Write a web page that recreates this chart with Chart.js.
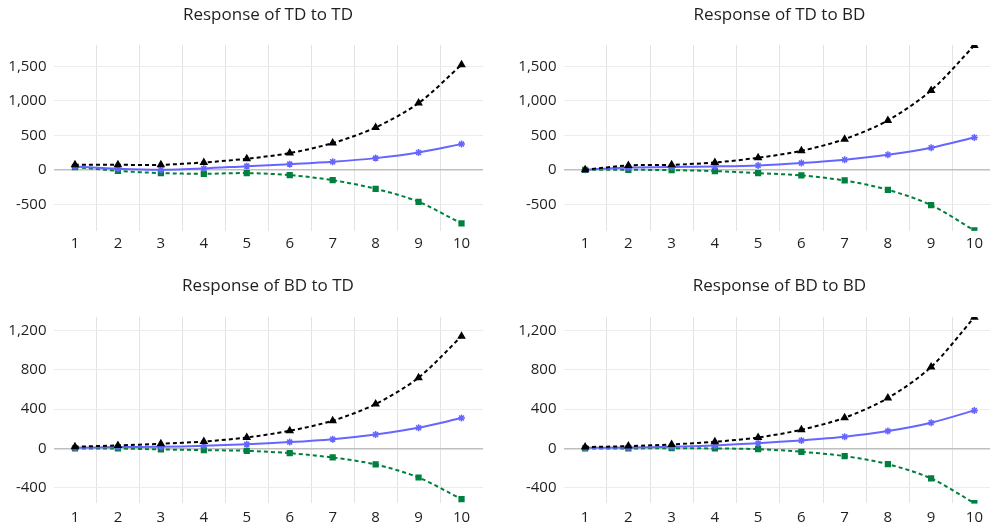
<!DOCTYPE html>
<html>
<head>
<meta charset="utf-8">
<script src="https://cdn.jsdelivr.net/npm/chart.js@4.4.1/dist/chart.umd.min.js"></script>
<style>
    html, body { margin: 0; padding: 0; background: #fff; overflow: hidden; }
    #wrap { position: relative; width: 990px; height: 527px; overflow: hidden; }
    .panel { position: absolute; }
</style>
</head>
<body>
<div id="wrap">
    <div class="panel" style="left:0;top:0"><canvas id="c1" width="536" height="264"></canvas></div>
    <div class="panel" style="left:510px;top:0"><canvas id="c2" width="539" height="264"></canvas></div>
    <div class="panel" style="left:0;top:264px"><canvas id="c3" width="536" height="268"></canvas></div>
    <div class="panel" style="left:510px;top:264px"><canvas id="c4" width="539" height="268"></canvas></div>
</div>
<script>
// Data
const periods = ['1', '2', '3', '4', '5', '6', '7', '8', '9', '10'];

// Response of TD to TD
const tdTdUpper = [72, 72, 72, 106, 160, 242, 387, 614, 966, 1522];
const tdTdMid = [48, 15, 0, 19, 53, 82, 116, 169, 251, 372];
const tdTdLower = [39, -15, -48, -58, -48, -77, -150, -275, -464, -778];

// Response of TD to BD
const tdBdUpper = [0, 63, 72, 106, 174, 275, 444, 715, 1150, 1802];
const tdBdMid = [0, 34, 39, 48, 63, 97, 145, 217, 319, 469];
const tdBdLower = [0, 0, -5, -19, -48, -82, -155, -290, -512, -879];

// Response of BD to TD
const bdTdUpper = [17, 31, 48, 71, 112, 180, 283, 453, 722, 1144];
const bdTdMid = [7, 14, 17, 27, 44, 65, 95, 143, 211, 310];
const bdTdLower = [0, 0, -10, -17, -24, -48, -92, -163, -296, -517];

// Response of BD to BD
const bdBdUpper = [14, 24, 41, 68, 112, 191, 313, 514, 831, 1338];
const bdBdMid = [7, 10, 17, 31, 54, 82, 119, 177, 262, 388];
const bdBdLower = [0, 0, 3, 0, -7, -34, -78, -160, -306, -558];

// Y ticks (top row / bottom row)
const topTicks = [-500, 0, 500, 1000, 1500];
const bottomTicks = [-400, 0, 400, 800, 1200];
const topRange = [-884, 1808];
const bottomRange = [-560, 1340];

const FONT = '"Open Sans", "Noto Sans", sans-serif';
const TEXT_COLOR = '#1f1f1f';

function makeChart(id, title, upper, mid, lower, ticks, range, pad) {
    const ctx = document.getElementById(id).getContext('2d');
    return new Chart(ctx, {
        type: 'line',
        data: {
            labels: periods,
            datasets: [
                {
                    label: 'Upper',
                    data: upper,
                    borderColor: '#000000',
                    backgroundColor: '#000000',
                    borderWidth: 2,
                    borderDash: [4, 3],
                    pointStyle: 'triangle',
                    pointRadius: 3,
                    pointHoverRadius: 3,
                    tension: 0.3,
                    fill: false
                },
                {
                    label: 'Response',
                    data: mid,
                    borderColor: '#6666ff',
                    backgroundColor: '#6666ff',
                    borderWidth: 2,
                    pointStyle: 'star',
                    pointRadius: 3.5,
                    pointBorderWidth: 1.5,
                    tension: 0.3,
                    fill: false
                },
                {
                    label: 'Lower',
                    data: lower,
                    borderColor: '#00803e',
                    backgroundColor: '#00803e',
                    borderWidth: 2,
                    borderDash: [4, 3],
                    pointStyle: 'rect',
                    pointRadius: 3,
                    tension: 0.3,
                    fill: false
                }
            ]
        },
        options: {
            responsive: false,
            animation: false,
            layout: { padding: { left: 0, right: 0, top: 0, bottom: pad.bottom } },
            scales: {
                x: {
                    offset: true,
                    grid: {
                        offset: true,
                        drawTicks: false,
                        color: c => (c.index > 0 ? '#e3e3e3' : 'rgba(0,0,0,0)')
                    },
                    border: { display: false },
                    ticks: { color: TEXT_COLOR, padding: pad.tick, font: { family: FONT, size: 15 }, maxRotation: 0 }
                },
                y: {
                    min: range[0],
                    max: range[1],
                    afterFit: s => { s.width = 53.5; },
                    afterBuildTicks: s => { s.ticks = ticks.map(v => ({ value: v })); },
                    grid: {
                        drawTicks: false,
                        color: c => (c.tick && c.tick.value === 0 ? '#bfbfbf' : '#ececec'),
                        lineWidth: c => (c.tick && c.tick.value === 0 ? 1.5 : 1)
                    },
                    border: { display: false },
                    ticks: {
                        color: TEXT_COLOR,
                        padding: 7,
                        font: { family: FONT, size: 15 },
                        callback: v => v.toLocaleString('en-US')
                    }
                },
                // empty axis on the right so the title sits over the plot centre
                spacer: {
                    type: 'linear',
                    position: 'right',
                    afterFit: s => { s.width = 53; },
                    grid: { display: false },
                    border: { display: false },
                    ticks: { display: false }
                }
            },
            plugins: {
                legend: { display: false },
                tooltip: { enabled: false },
                title: {
                    display: true,
                    text: title,
                    color: TEXT_COLOR,
                    font: { family: FONT, size: 17, weight: 'normal', lineHeight: 1.2 },
                    padding: { top: pad.top, bottom: pad.titleBottom }
                }
            }
        }
    });
}

// Init
const topPad = { top: 5, titleBottom: 19.6, bottom: 7.2, tick: 4 };
const bottomPad = { top: 12, titleBottom: 20.6, bottom: 0.6, tick: 5 };

makeChart('c1', 'Response of TD to TD', tdTdUpper, tdTdMid, tdTdLower, topTicks, topRange, topPad);
makeChart('c2', 'Response of TD to BD', tdBdUpper, tdBdMid, tdBdLower, topTicks, topRange, topPad);
makeChart('c3', 'Response of BD to TD', bdTdUpper, bdTdMid, bdTdLower, bottomTicks, bottomRange, bottomPad);
makeChart('c4', 'Response of BD to BD', bdBdUpper, bdBdMid, bdBdLower, bottomTicks, bottomRange, bottomPad);
</script>
</body>
</html>
